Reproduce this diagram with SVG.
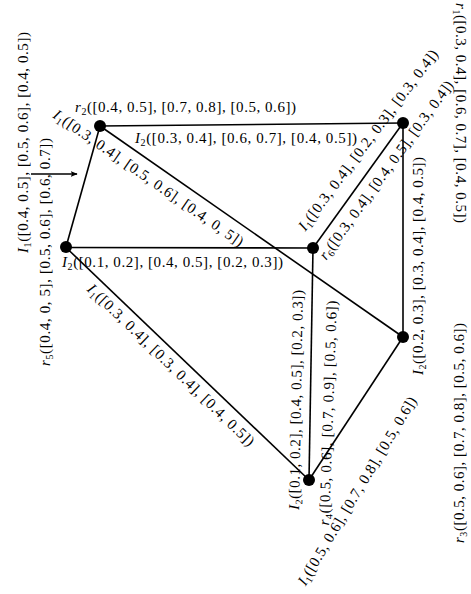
<svg xmlns="http://www.w3.org/2000/svg" width="471" height="594" viewBox="0 0 471 594">
<style>
.t{font-family:"Liberation Serif","DejaVu Serif",serif;font-size:15px;fill:#000}
.i{font-style:italic}
.s{font-size:10px}
.e{stroke:#000;stroke-width:1.6;fill:none}
.n{fill:#000}
</style>
<defs>
<marker id="ah" viewBox="0 0 10 10" refX="9" refY="5" markerWidth="7" markerHeight="7" markerUnits="userSpaceOnUse" orient="auto">
<path d="M0,1 L10,5 L0,9 L2,5 Z" fill="#000"/>
</marker>
</defs>
<rect width="471" height="594" fill="#fff"/>
<g id="connectors">
<g id="e-r2-r1"><line class="e" x1="100" y1="126" x2="403" y2="123"/>
<text class="t" x="246" y="143" text-anchor="middle" textLength="222" lengthAdjust="spacing"><tspan class="i">I</tspan><tspan class="s" dy="3">2</tspan><tspan dy="-3">([0.3, 0.4], [0.6, 0.7], [0.4, 0.5])</tspan></text></g>
<g id="e-r2-r5"><line class="e" x1="100" y1="126" x2="66" y2="247"/>
<text class="t" transform="translate(23,142.5) rotate(-90)" x="0" y="5" text-anchor="middle" textLength="221" lengthAdjust="spacing"><tspan class="i">I</tspan><tspan class="s" dy="3">1</tspan><tspan dy="-3">([0.4, 0.5], [0.5, 0.6], [0.4, 0.5])</tspan></text>
<line class="e" x1="31" y1="174" x2="77" y2="174" stroke-width="1.2" marker-end="url(#ah)"/></g>
<g id="e-r2-r3"><line class="e" x1="100" y1="126" x2="403" y2="337"/>
<text class="t" transform="translate(148.5,178) rotate(34.8)" x="0" y="5" text-anchor="middle" textLength="228" lengthAdjust="spacing"><tspan class="i">I</tspan><tspan class="s" dy="3">1</tspan><tspan dy="-3">([0.3, 0.4], [0.5, 0.6], [0.4, 0, 5])</tspan></text></g>
<g id="e-r5-r6"><line class="e" x1="66" y1="247.5" x2="313" y2="248"/>
<text class="t" x="172.5" y="267" text-anchor="middle" textLength="221" lengthAdjust="spacing"><tspan class="i">I</tspan><tspan class="s" dy="3">2</tspan><tspan dy="-3">([0.1, 0.2], [0.4, 0.5], [0.2, 0.3])</tspan></text></g>
<g id="e-r5-r4"><line class="e" x1="66" y1="247.5" x2="309" y2="480"/>
<text class="t" transform="translate(171,365) rotate(44)" x="0" y="5" text-anchor="middle" textLength="226" lengthAdjust="spacing"><tspan class="i">I</tspan><tspan class="s" dy="3">1</tspan><tspan dy="-3">([0.3, 0.4], [0.3, 0.4], [0.4, 0.5])</tspan></text></g>
<g id="e-r6-r1"><line class="e" x1="313" y1="248" x2="403" y2="123"/>
<text class="t" transform="translate(368,140) rotate(-53)" x="0" y="5" text-anchor="middle" textLength="222" lengthAdjust="spacing"><tspan class="i">I</tspan><tspan class="s" dy="3">1</tspan><tspan dy="-3">([0.3, 0.4], [0.2, 0.3], [0.3, 0.4])</tspan></text></g>
<g id="e-r6-r4"><line class="e" x1="313" y1="248" x2="309" y2="480"/>
<text class="t" transform="translate(296,400) rotate(-89)" x="0" y="5" text-anchor="middle" textLength="220" lengthAdjust="spacing"><tspan class="i">I</tspan><tspan class="s" dy="3">2</tspan><tspan dy="-3">([0.1, 0.2], [0.4, 0.5], [0.2, 0.3])</tspan></text></g>
<g id="e-r1-r3"><line class="e" x1="403" y1="123" x2="403" y2="337"/>
<text class="t" transform="translate(418,266) rotate(-90)" x="0" y="5" text-anchor="middle" textLength="218" lengthAdjust="spacing"><tspan class="i">I</tspan><tspan class="s" dy="3">2</tspan><tspan dy="-3">([0.2, 0.3], [0.3, 0.4], [0.4, 0.5])</tspan></text></g>
<g id="e-r3-r4"><line class="e" x1="403" y1="337" x2="309" y2="480"/>
<text class="t" transform="translate(357,491) rotate(-59)" x="0" y="5" text-anchor="middle" textLength="217" lengthAdjust="spacing"><tspan class="i">I</tspan><tspan class="s" dy="3">1</tspan><tspan dy="-3">([0.5, 0.6], [0.7, 0.8], [0.5, 0.6])</tspan></text></g>
</g>
<g id="r2"><circle class="n" cx="100" cy="126" r="6"/>
<text class="t" x="185.5" y="112" text-anchor="middle" textLength="221" lengthAdjust="spacing"><tspan class="i">r</tspan><tspan class="s" dy="3">2</tspan><tspan dy="-3">([0.4, 0.5], [0.7, 0.8], [0.5, 0.6])</tspan></text></g>
<g id="r1"><circle class="n" cx="403" cy="123" r="6"/>
<text class="t" transform="translate(461,113) rotate(90)" x="0" y="5" text-anchor="middle" textLength="220" lengthAdjust="spacing"><tspan class="i">r</tspan><tspan class="s" dy="3">1</tspan><tspan dy="-3">([0.3, 0.4], [0.6, 0.7], [0.4, 0.5])</tspan></text></g>
<g id="r5"><circle class="n" cx="66" cy="247" r="6"/>
<text class="t" transform="translate(45,252) rotate(-90)" x="0" y="5" text-anchor="middle" textLength="228" lengthAdjust="spacing"><tspan class="i">r</tspan><tspan class="s" dy="3">5</tspan><tspan dy="-3">([0.4, 0, 5], [0.5, 0.6], [0.6, 0.7])</tspan></text></g>
<g id="r6"><circle class="n" cx="313" cy="248" r="6"/>
<text class="t" transform="translate(386,170) rotate(-54)" x="0" y="5" text-anchor="middle" textLength="217" lengthAdjust="spacing"><tspan class="i">r</tspan><tspan class="s" dy="3">6</tspan><tspan dy="-3">([0.3, 0.4], [0.4, 0.5], [0.3, 0.4])</tspan></text></g>
<g id="r3"><circle class="n" cx="403" cy="337" r="6"/>
<text class="t" transform="translate(459,433) rotate(-90)" x="0" y="5" text-anchor="middle" textLength="220" lengthAdjust="spacing"><tspan class="i">r</tspan><tspan class="s" dy="3">3</tspan><tspan dy="-3">([0.5, 0.6], [0.7, 0.8], [0.5, 0.6])</tspan></text></g>
<g id="r4"><circle class="n" cx="309" cy="480" r="6"/>
<text class="t" transform="translate(328,413) rotate(-88)" x="0" y="5" text-anchor="middle" textLength="225" lengthAdjust="spacing"><tspan class="i">r</tspan><tspan class="s" dy="3">4</tspan><tspan dy="-3">([0.5, 0.6], [0.7, 0.9], [0.5, 0.6])</tspan></text></g>
</svg>
